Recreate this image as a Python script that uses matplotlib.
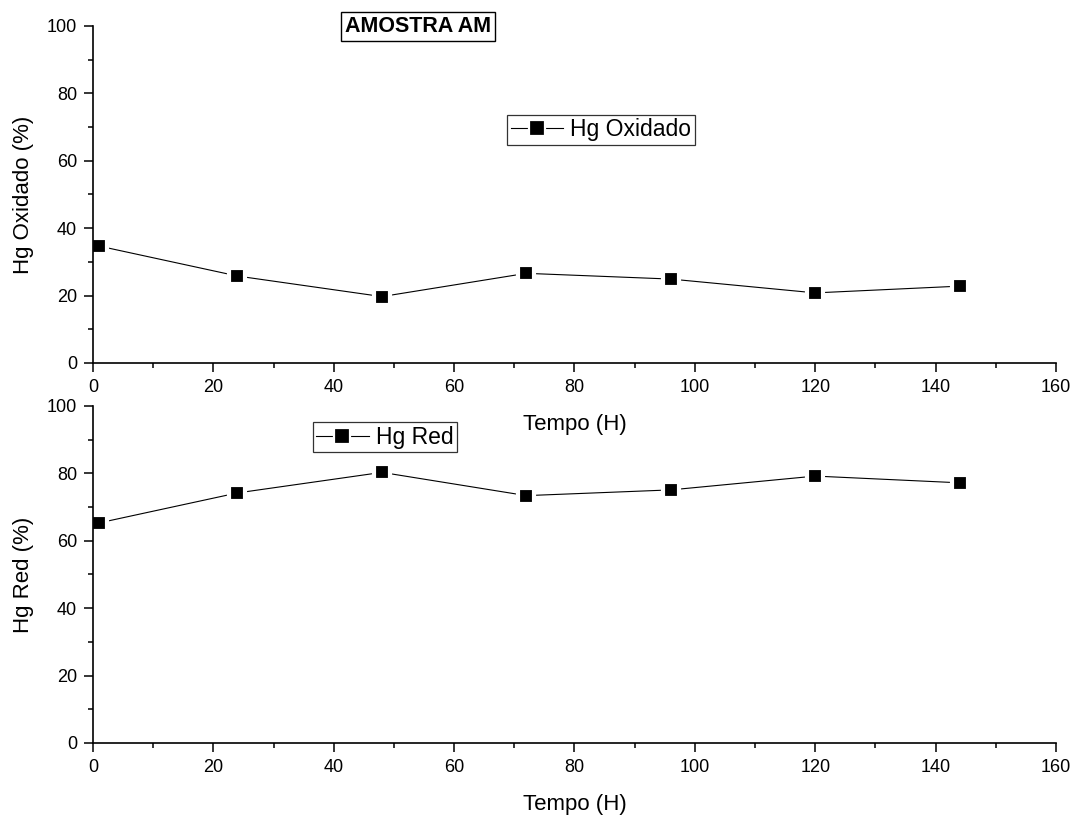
"""Hg oxidado / Hg red ao longo do tempo - amostra AM."""

import matplotlib

matplotlib.use("Agg")
import matplotlib.pyplot as plt
from matplotlib.lines import Line2D
from matplotlib.ticker import MultipleLocator

plt.rcParams["font.family"] = ["Liberation Sans", "DejaVu Sans"]

# dados
tempo_h = [1, 24, 48, 72, 96, 120, 144]
hg_oxidado = [34.7, 25.8, 19.7, 26.6, 24.9, 20.8, 22.8]
hg_red = [65.3, 74.2, 80.3, 73.4, 75.1, 79.2, 77.2]

fig = plt.figure(figsize=(10.76, 8.19), dpi=100, facecolor="white")
ax_top = fig.add_axes([0.0864, 0.5568, 0.8950, 0.4115])
ax_bot = fig.add_axes([0.0864, 0.0928, 0.8950, 0.4115])

series = [
    (ax_top, hg_oxidado, "Hg Oxidado", "Hg Oxidado (%)", (0.43, 0.736)),
    (ax_bot, hg_red, "Hg Red", "Hg Red (%)", (0.228, 0.952)),
]

for ax, valores, nome, ylabel, pos_leg in series:
    ax.patch.set_visible(False)
    ax.plot(
        tempo_h, valores, color="black", lw=0.8,
        marker="s", markersize=11, markerfacecolor="black",
        markeredgecolor="white", markeredgewidth=3.0,
    )
    ax.set_xlim(0, 160)
    ax.set_ylim(0, 100)
    ax.xaxis.set_major_locator(MultipleLocator(20))
    ax.xaxis.set_minor_locator(MultipleLocator(10))
    ax.yaxis.set_major_locator(MultipleLocator(20))
    ax.yaxis.set_minor_locator(MultipleLocator(10))
    for s in ("top", "right"):
        ax.spines[s].set_visible(False)
    for s in ("left", "bottom"):
        ax.spines[s].set_linewidth(1.2)
    ax.tick_params(which="major", direction="out", length=6.5, width=1.1,
                   labelsize=13, pad=5)
    ax.tick_params(which="minor", direction="out", length=3.6, width=1.1)
    ax.set_xlabel("Tempo (H)", fontsize=16, labelpad=13)
    ax.set_ylabel(ylabel, fontsize=16, labelpad=9)

    proxy = Line2D([], [], color="black", lw=0.8, marker="s", markersize=11.5,
                   markerfacecolor="black", markeredgecolor="white",
                   markeredgewidth=1.6)
    leg = ax.legend(
        [proxy], [nome],
        loc="upper left", bbox_to_anchor=pos_leg, borderaxespad=0,
        fontsize=16.5, frameon=True, fancybox=False, edgecolor="black",
        handlelength=2.3, handletextpad=0.3, borderpad=0.15,
    )
    leg.get_frame().set_linewidth(0.9)

fig.text(
    0.3885, 0.9676, "AMOSTRA AM", fontsize=15.5, fontweight="bold",
    ha="center", va="center",
    bbox=dict(boxstyle="square,pad=0.18", facecolor="white", edgecolor="black", lw=1),
)

fig.savefig("out.png", dpi=100, facecolor="white")
